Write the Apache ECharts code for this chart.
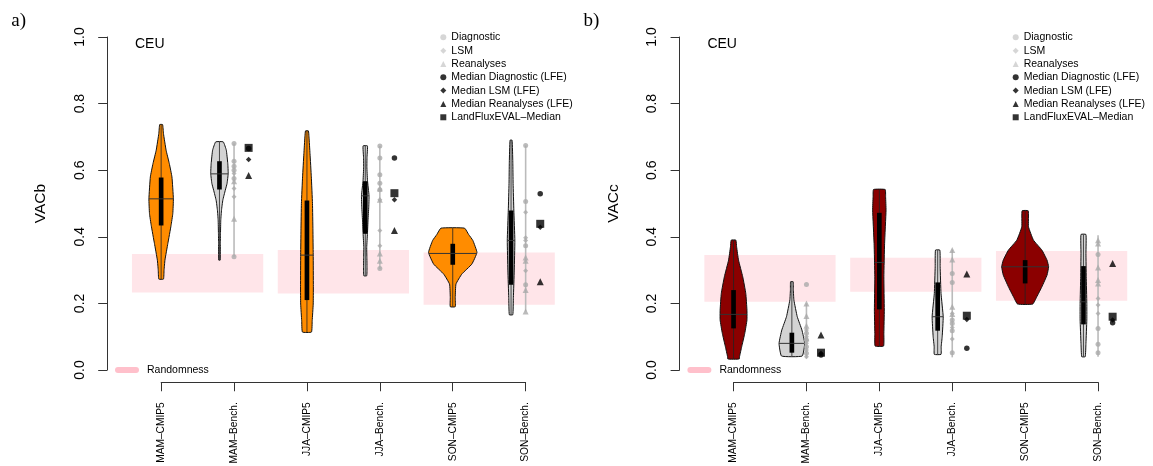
<!DOCTYPE html>
<html><head><meta charset="utf-8">
<script src="https://cdn.jsdelivr.net/npm/echarts@6/dist/echarts.min.js"></script>
<style>html,body{margin:0;padding:0;background:#fff}#c{width:1153px;height:466px}</style>
</head><body><div id="c"></div>
<script>
// ---------- data ----------
const catLabels = ['MAM\u2013CMIP5','MAM\u2013Bench.','JJA\u2013CMIP5','JJA\u2013Bench.','SON\u2013CMIP5','SON\u2013Bench.'];
const yTicks = [0, 0.2, 0.4, 0.6, 0.8, 1.0];

// Panel a) VACb : violin profiles (value, estimated density)
const vacbViolinValues = [
  [0.273,0.30,0.33,0.38,0.434,0.47,0.514,0.58,0.62,0.66,0.71,0.737],
  [0.33,0.38,0.41,0.45,0.48,0.51,0.54,0.56,0.59,0.62,0.66,0.685],
  [0.114,0.148,0.198,0.25,0.348,0.42,0.5,0.58,0.65,0.70,0.718],
  [0.283,0.308,0.34,0.368,0.41,0.45,0.49,0.523,0.57,0.61,0.64,0.673],
  [0.19,0.218,0.258,0.288,0.318,0.353,0.389,0.407,0.426],
  [0.166,0.218,0.3,0.389,0.48,0.56,0.624,0.69]
];
const vacbViolinDensity = [
  [0.8,1.0,1.3,2.3,3.4,4.0,4.2,3.7,2.8,1.7,0.8,0.5],
  [0.25,0.3,0.35,0.45,0.7,1.15,2.0,2.6,3.0,2.85,2.35,1.3],
  [1.55,1.8,2.15,2.2,2.15,2.05,1.9,1.5,1.05,0.7,0.5],
  [0.5,0.6,0.55,0.5,0.75,0.95,1.2,1.3,0.75,0.55,0.6,0.75],
  [0.85,0.85,1.1,3.1,6.55,8.3,6.9,5.45,4.05],
  [0.6,0.8,1.1,1.3,0.95,0.7,0.6,0.35]
];
const vacbQ1 = [0.434,0.542,0.21,0.409,0.316,0.256];
const vacbMedian = [0.514,0.589,0.345,0.523,0.35,0.389];
const vacbQ3 = [0.578,0.627,0.509,0.567,0.379,0.479];
const vacbDiagnostic = [[0.68,0.627,0.612,0.60,0.575,0.34],[0.673,0.637,0.586,0.561,0.541,0.305],[0.674,0.506,0.373,0.256]];
const vacbLSM = [[0.59,0.545,0.52],[0.511,0.419,0.373],[0.474,0.397,0.389,0.298]];
const vacbReanalyses = [[0.567,0.454],[0.545,0.511,0.35,0.328],[0.338,0.328,0.24,0.176]];
const vacbSpreadLo = [0.34,0.303,0.176];
const vacbSpreadHi = [0.68,0.673,0.674];
const vacbMedDiag = [0.665,0.637,0.529];
const vacbMedLSM = [0.632,0.511,0.429];
const vacbMedRean = [0.584,0.419,0.265];
const vacbLFE = [0.667,0.531,0.439];
const vacbRandLo = [0.233,0.230,0.196];
const vacbRandHi = [0.348,0.360,0.353];

// Panel b) VACc
const vaccViolinValues = [
  [0.033,0.04,0.07,0.11,0.15,0.18,0.23,0.28,0.33,0.37,0.39],
  [0.042,0.08,0.12,0.16,0.21,0.24,0.265],
  [0.072,0.11,0.18,0.28,0.38,0.48,0.52,0.542],
  [0.047,0.07,0.10,0.16,0.23,0.31,0.36],
  [0.198,0.22,0.25,0.285,0.31,0.33,0.36,0.39,0.43,0.478],
  [0.04,0.08,0.15,0.2,0.28,0.35,0.407]
];
const vaccViolinDensity = [
  [1.95,2.05,2.8,3.85,4.6,4.6,4.2,3.15,1.7,1.05,0.8],
  [3.55,4.4,3.45,1.85,0.7,0.5,0.45],
  [1.45,1.55,1.7,1.55,1.8,2.3,2.15,2.0],
  [1.15,1.2,1.55,1.9,1.15,0.85,0.75],
  [2.6,4.0,5.75,7.5,8.05,7.5,5.75,2.85,1.15,1.05],
  [0.6,0.85,1.15,1.15,0.95,0.85,0.85]
];
const vaccQ1 = [0.125,0.052,0.182,0.118,0.26,0.137];
const vaccMedian = [0.167,0.08,0.323,0.16,0.31,0.205];
const vaccQ3 = [0.24,0.112,0.472,0.263,0.33,0.312];
const vaccDiagnostic = [[0.257,0.11,0.09,0.07,0.05],[0.29,0.263,0.15,0.14,0.118,0.052],[0.347,0.125,0.077,0.052]];
const vaccLSM = [[0.12,0.10,0.08,0.06,0.04],[0.17,0.128,0.093],[0.215,0.195,0.17]];
const vaccReanalyses = [[0.2,0.162,0.133,0.095],[0.36,0.332,0.19,0.168],[0.39,0.38,0.308,0.27,0.26]];
const vaccSpreadLo = [0.035,0.038,0.04];
const vaccSpreadHi = [0.2,0.362,0.405];
const vaccMedDiag = [0.045,0.065,0.142];
const vaccMedLSM = [0.05,0.152,0.15];
const vaccMedRean = [0.105,0.288,0.32];
const vaccLFE = [0.052,0.163,0.16];
const vaccRandLo = [0.205,0.235,0.208];
const vaccRandHi = [0.345,0.337,0.357];

// ---------- layout / style ----------
const UNIT = 72.9;
const PANEL_LEFT = [107.2, 679.6];
const FONT = 'Liberation Sans, Arial, Helvetica, sans-serif';
const DENS_W = 0.04, BOX_HW = 0.032, BENCH_OFF = -0.2, MARK_OFF = 0.2;
const GRAY_PT = '#aaaaaa', GRAY_LEG = '#cccccc';

function interpHW(vs, ds, y){
  if (y <= vs[0]) return ds[0];
  for (let k = 1; k < vs.length; k++) if (y <= vs[k]) {
    const t = (y - vs[k-1]) / (vs[k] - vs[k-1]); return ds[k-1] + t * (ds[k] - ds[k-1]);
  }
  return ds[ds.length-1];
}

function panelSeries(p, P){
  const xi = 2*p, yi = 2*p;
  const series = [];
  // randomness bands
  series.push({
    type:'custom', name:'Randomness', xAxisIndex:xi, yAxisIndex:yi, clip:false, silent:true, z:1,
    data: P.randLo.map((lo,j)=>[2*j+1.5, lo, P.randHi[j]]),
    encode:{x:0,y:1},
    renderItem(params, api){
      const c = api.value(0);
      const a = api.coord([c-0.9, api.value(2)]), b = api.coord([c+0.9, api.value(1)]);
      return {type:'rect', shape:{x:a[0], y:a[1], width:b[0]-a[0], height:b[1]-a[1]},
        style:{fill:'rgba(255,192,203,0.42)'}};
    }
  });
  // violins
  series.push({
    type:'custom', name:'violin', xAxisIndex:xi, yAxisIndex:yi, clip:false, silent:true, z:3,
    data: P.vals.map((v,i)=>[i+1 + (i%2 ? BENCH_OFF : 0), P.med[i]]),
    encode:{x:0,y:1},
    renderItem(params, api){
      const i = params.dataIndex, c = api.value(0);
      const vs = P.vals[i], ds = P.dens[i];
      const left = [], right = [];
      for (let k = 0; k < vs.length; k++){
        left.push(api.coord([c - ds[k]*DENS_W, vs[k]]));
        right.unshift(api.coord([c + ds[k]*DENS_W, vs[k]]));
      }
      const fill = i%2 ? '#d3d3d3' : P.color;
      const top = api.coord([c, vs[vs.length-1]]), bot = api.coord([c, vs[0]]);
      const b1 = api.coord([c-BOX_HW, P.q3[i]]), b2 = api.coord([c+BOX_HW, P.q1[i]]);
      const hw = interpHW(vs, ds, P.med[i]) * DENS_W;
      const m1 = api.coord([c-hw, P.med[i]]), m2 = api.coord([c+hw, P.med[i]]);
      return {type:'group', children:[
        {type:'polygon', shape:{points:left.concat(right), smooth:0.12},
          style:{fill:fill, stroke:'#111', lineWidth:1}},
        {type:'line', shape:{x1:top[0], y1:top[1], x2:bot[0], y2:bot[1]}, style:{stroke:'#222', lineWidth:0.8}},
        {type:'rect', shape:{x:b1[0], y:b1[1], width:b2[0]-b1[0], height:b2[1]-b1[1]}, style:{fill:'#000'}},
        {type:'line', shape:{x1:m1[0], y1:m1[1], x2:m2[0], y2:m2[1]}, style:{stroke:'#333', lineWidth:1}}
      ]};
    }
  });
  // gray spread lines of benchmark points
  series.push({
    type:'custom', name:'spread', xAxisIndex:xi, yAxisIndex:yi, clip:false, silent:true, z:4,
    data: P.spreadLo.map((lo,j)=>[2*j+2, lo, P.spreadHi[j]]),
    encode:{x:0,y:1},
    renderItem(params, api){
      const a = api.coord([api.value(0), api.value(1)]), b = api.coord([api.value(0), api.value(2)]);
      return {type:'line', shape:{x1:a[0], y1:a[1], x2:b[0], y2:b[1]}, style:{stroke:'#bbbbbb', lineWidth:1.6}};
    }
  });
  const pts = (groups, off) => groups.flatMap((g,j)=>g.map(v=>[2*j+2+off, v]));
  const one = (arr, off) => arr.map((v,j)=>[2*j+2+off, v]);
  const sc = (name, data, symbol, size, color, z) => ({
    type:'scatter', name, xAxisIndex:xi, yAxisIndex:yi, data, symbol, symbolSize:size,
    itemStyle:{color}, silent:true, z, clip:false
  });
  series.push(sc('Diagnostic', pts(P.diag,0), 'circle', 5, GRAY_PT, 5));
  series.push(sc('LSM', pts(P.lsm,0), 'diamond', 5, GRAY_PT, 5));
  series.push(sc('Reanalyses', pts(P.rean,0), 'triangle', 6, GRAY_PT, 5));
  series.push(sc('Median Diagnostic (LFE)', one(P.medDiag, MARK_OFF), 'circle', 5.5, '#000', 6));
  series.push(sc('Median LSM (LFE)', one(P.medLSM, MARK_OFF), 'diamond', 5.5, '#000', 6));
  series.push(sc('Median Reanalyses (LFE)', one(P.medRean, MARK_OFF), 'triangle', 7, '#000', 6));
  series.push(sc('LandFluxEVAL\u2013Median', one(P.lfe, MARK_OFF), 'rect', 8, '#000', 7));
  return series;
}

const PA = {vals:vacbViolinValues, dens:vacbViolinDensity, q1:vacbQ1, med:vacbMedian, q3:vacbQ3,
  diag:vacbDiagnostic, lsm:vacbLSM, rean:vacbReanalyses, spreadLo:vacbSpreadLo, spreadHi:vacbSpreadHi,
  medDiag:vacbMedDiag, medLSM:vacbMedLSM, medRean:vacbMedRean, lfe:vacbLFE,
  randLo:vacbRandLo, randHi:vacbRandHi, color:'#ff8c00'};
const PB = {vals:vaccViolinValues, dens:vaccViolinDensity, q1:vaccQ1, med:vaccMedian, q3:vaccQ3,
  diag:vaccDiagnostic, lsm:vaccLSM, rean:vaccReanalyses, spreadLo:vaccSpreadLo, spreadHi:vaccSpreadHi,
  medDiag:vaccMedDiag, medLSM:vaccMedLSM, medRean:vaccMedRean, lfe:vaccLFE,
  randLo:vaccRandLo, randHi:vaccRandHi, color:'#8b0000'};

const grids = [], xAxes = [], yAxes = [], legends = [], titles = [];
const yNames = ['VACb','VACc'], tags = ['a)','b)'];
[0,1].forEach(p=>{
  const L = PANEL_LEFT[p];
  grids.push({left:L, top:37, width:6.48*UNIT, height:333});
  grids.push({left:L+0.74*UNIT, top:382, width:5*UNIT, height:1});
  xAxes.push({gridIndex:2*p, type:'value', min:0.26, max:6.74, show:false});
  xAxes.push({gridIndex:2*p+1, type:'value', min:1, max:6, interval:1,
    axisLine:{show:true, lineStyle:{color:'#333', width:1}},
    axisTick:{show:true, length:9, lineStyle:{color:'#333'}},
    splitLine:{show:false},
    axisLabel:{rotate:90, margin:20, fontSize:10.2, color:'#000', fontFamily:FONT,
      formatter:v=>catLabels[Math.round(v)-1] || ''}});
  yAxes.push({gridIndex:2*p, type:'value', min:yTicks[0], max:yTicks[yTicks.length-1], interval:0.2,
    name:yNames[p], nameLocation:'middle', nameGap:58, nameRotate:90,
    nameTextStyle:{fontSize:15.5, color:'#000', fontFamily:FONT},
    axisLine:{show:true, lineStyle:{color:'#333', width:1}},
    axisTick:{show:true, length:9, lineStyle:{color:'#333'}},
    splitLine:{show:false},
    axisLabel:{rotate:90, margin:20, fontSize:14, color:'#000', fontFamily:FONT, formatter:v=>v.toFixed(1)}});
  yAxes.push({gridIndex:2*p+1, type:'value', min:0, max:1, show:false});
  legends.push({orient:'vertical', left:L+333.1, top:31.3, padding:0, itemGap:1.33, itemWidth:6, itemHeight:6,
    selectedMode:false, textStyle:{fontSize:10.5, lineHeight:12, color:'#000', fontFamily:FONT},
    data:[
      {name:'Diagnostic', icon:'circle', itemStyle:{color:GRAY_LEG}},
      {name:'LSM', icon:'diamond', itemStyle:{color:GRAY_LEG}},
      {name:'Reanalyses', icon:'triangle', itemStyle:{color:GRAY_LEG}},
      {name:'Median Diagnostic (LFE)', icon:'circle', itemStyle:{color:'#000'}},
      {name:'Median LSM (LFE)', icon:'diamond', itemStyle:{color:'#000'}},
      {name:'Median Reanalyses (LFE)', icon:'triangle', itemStyle:{color:'#000'}},
      {name:'LandFluxEVAL\u2013Median', icon:'rect', itemStyle:{color:'#000'}}
    ]});
  legends.push({orient:'horizontal', left:L+7.8, top:364, padding:0, itemWidth:24, itemHeight:6,
    selectedMode:false, textStyle:{fontSize:10.5, lineHeight:12, color:'#000', fontFamily:FONT, padding:[0,0,0,3]},
    data:[{name:'Randomness', icon:'path://M3,0 L21,0 A3,3 0 0 1 21,6 L3,6 A3,3 0 0 1 3,0 Z', itemStyle:{color:'#ffc0cb'}}]});
  titles.push({text:tags[p], left:L-96, top:12, padding:0,
    textStyle:{fontFamily:'Liberation Serif, Times New Roman, serif', fontSize:19, fontWeight:'normal', color:'#000'}});
  titles.push({text:'CEU', left:L+27.8, top:37, padding:0,
    textStyle:{fontFamily:FONT, fontSize:14, fontWeight:'normal', color:'#000'}});
});

const chart = echarts.init(document.getElementById('c'), null, {renderer:'canvas'});
chart.setOption({
  animation:false, backgroundColor:'#fff',
  title:titles, grid:grids, xAxis:xAxes, yAxis:yAxes, legend:legends,
  series: panelSeries(0, PA).concat(panelSeries(1, PB))
});
</script></body></html>
